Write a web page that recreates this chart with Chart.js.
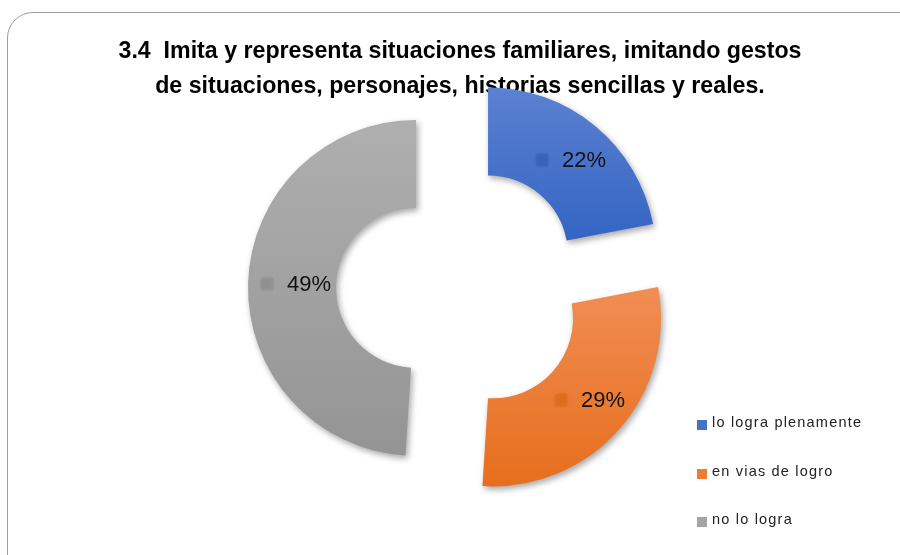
<!DOCTYPE html>
<html>
<head>
<meta charset="utf-8">
<script src="https://cdn.jsdelivr.net/npm/chart.js@4/dist/chart.umd.min.js"></script>
<style>
  html,body{margin:0;padding:0;background:#fff;}
  #wrap{position:relative;width:900px;height:555px;overflow:hidden;background:#fff;}
  #frame{position:absolute;left:7px;top:12px;width:930px;height:580px;border:1.5px solid #9d9d9d;border-radius:26px;box-sizing:border-box;}
  canvas{position:absolute;left:0;top:0;}
  #legend{position:absolute;left:697px;top:414px;font-family:"Liberation Sans",Arial,sans-serif;font-size:14.5px;color:#222;letter-spacing:1.2px;}
  #legend .row{height:48.5px;display:flex;align-items:flex-start;white-space:nowrap;}
  #legend .box{width:10px;height:10px;margin-top:6px;margin-right:5px;flex:none;}
</style>
</head>
<body>
<div id="wrap">
  <canvas id="c" width="900" height="555"></canvas>
  <div id="frame"></div>
  <div id="legend"></div>
</div>
<script>
const categories = ["lo logra plenamente", "en vias de logro", "no lo logra"];
const values = [22, 29, 49];
const percentLabels = ["22%", "29%", "49%"];
const titleLines = ["3.4  Imita y representa situaciones familiares, imitando gestos",
                    "de situaciones, personajes, historias sencillas y reales."];
const baseColors = ["#4472c4", "#ed7d31", "#a5a5a5"];
const topColors = ["#5b81d1", "#f18d54", "#afafaf"];
const bottomColors = ["#3465c3", "#e76e1c", "#949494"];

const EXPLODE = 44;      // explosion distance (px)
const OUTER = 168;       // outer radius (px)
const CUT = 0.476;       // cutout ratio

// legend (HTML text)
const lg = document.getElementById('legend');
categories.forEach((c, i) => {
  const r = document.createElement('div'); r.className = 'row';
  const b = document.createElement('span'); b.className = 'box'; b.style.background = baseColors[i];
  const t = document.createElement('span'); t.textContent = c;
  r.appendChild(b); r.appendChild(t); lg.appendChild(r);
});

// explode each slice by moving its own centre along its mid-angle
const explodePlugin = {
  id: 'explode',
  afterDatasetsUpdate(chart) {
    const meta = chart.getDatasetMeta(0);
    meta.data.forEach((el) => {
      const mid = (el.startAngle + el.endAngle) / 2;
      el.x = el.x + Math.cos(mid) * EXPLODE;
      el.y = el.y + Math.sin(mid) * EXPLODE;
    });
  }
};

function arcYExtent(el) {
  let minY = Infinity, maxY = -Infinity;
  for (let k = 0; k <= 60; k++) {
    const a = el.startAngle + (el.endAngle - el.startAngle) * k / 60;
    for (const r of [el.innerRadius, el.outerRadius]) {
      const y = el.y + Math.sin(a) * r;
      minY = Math.min(minY, y); maxY = Math.max(maxY, y);
    }
  }
  return [minY, maxY];
}

const gradientPlugin = {
  id: 'grad',
  beforeDatasetsDraw(chart) {
    const meta = chart.getDatasetMeta(0);
    meta.data.forEach((el, i) => {
      const [y1, y2] = arcYExtent(el);
      const g = chart.ctx.createLinearGradient(0, y1, 0, y2);
      g.addColorStop(0, topColors[i]);
      g.addColorStop(1, bottomColors[i]);
      el.options.backgroundColor = g;
    });
  }
};

const shadowPlugin = {
  id: 'shadow',
  beforeDatasetDraw(chart) {
    const ctx = chart.ctx; ctx.save();
    ctx.shadowColor = 'rgba(0,0,0,0.35)';
    ctx.shadowBlur = 6; ctx.shadowOffsetX = 2; ctx.shadowOffsetY = 3;
  },
  afterDatasetDraw(chart) { chart.ctx.restore(); }
};

const labelPlugin = {
  id: 'lbl',
  afterDatasetsDraw(chart) {
    const ctx = chart.ctx;
    const meta = chart.getDatasetMeta(0);
    meta.data.forEach((el, i) => {
      const mid = (el.startAngle + el.endAngle) / 2;
      const r = (el.innerRadius + el.outerRadius) / 2;
      const px = el.x + Math.cos(mid) * r + 4, py = el.y + Math.sin(mid) * r;
      ctx.save();
      ctx.font = '22px "Liberation Sans", Arial, sans-serif';
      const txt = percentLabels[i];
      const tw = ctx.measureText(txt).width;
      const sq = 12, gap = 14;
      const total = sq + gap + tw;
      const x0 = px - total / 2;
      ctx.shadowColor = 'rgba(0,0,0,0.25)'; ctx.shadowBlur = 3;
      ctx.fillStyle = bottomColors[i];
      ctx.globalAlpha = 0.8;
      ctx.fillRect(x0, py - sq / 2, sq, sq);
      ctx.restore();
      ctx.save();
      ctx.font = '22px "Liberation Sans", Arial, sans-serif';
      ctx.fillStyle = '#111';
      ctx.textBaseline = 'middle';
      ctx.textAlign = 'left';
      ctx.fillText(txt, x0 + sq + gap, py + 1);
      ctx.restore();
    });
  }
};

new Chart(document.getElementById('c'), {
  type: 'doughnut',
  data: {
    labels: categories,
    datasets: [{
      data: values,
      backgroundColor: baseColors,
      borderWidth: 0,
      offset: values.map(() => 0),
      hoverOffset: 0,
      clip: false
    }]
  },
  options: {
    responsive: false,
    animation: false,
    radius: OUTER,
    cutout: (CUT * 100) + '%',
    layout: { padding: { left: 20, right: 0, top: 0, bottom: 85 } },
    events: [],
    plugins: {
      legend: { display: false },
      tooltip: { enabled: false },
      title: {
        display: true,
        text: titleLines,
        color: '#000',
        font: { family: '"Liberation Sans", Arial, sans-serif', size: 23.2, weight: 'bold', lineHeight: 1.5 },
        padding: { top: 34, bottom: 5 }
      }
    }
  },
  plugins: [explodePlugin, gradientPlugin, shadowPlugin, labelPlugin]
});
</script>
</body>
</html>
